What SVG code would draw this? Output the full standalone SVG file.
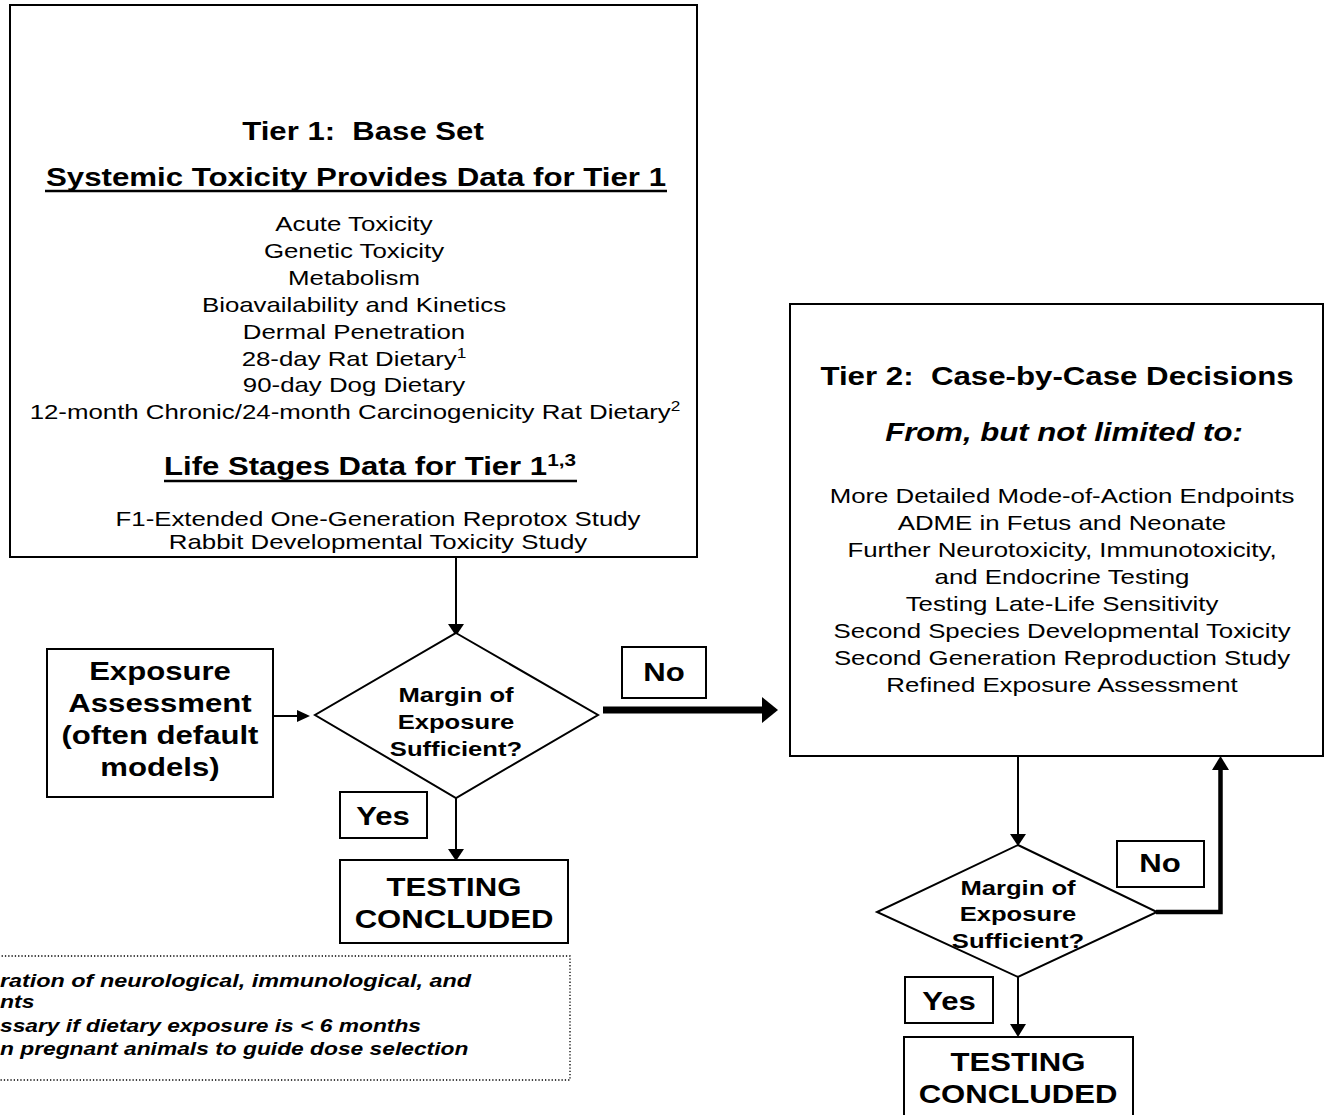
<svg xmlns="http://www.w3.org/2000/svg" width="1325" height="1115" viewBox="0 0 1325 1115">
<style>
  text { font-family: "Liberation Sans", Arial, sans-serif; fill: #000; }
  .reg { font-size: 21px; }
  .big { font-size: 25.5px; font-weight: bold; }
  .bi { font-size: 25.5px; font-weight: bold; font-style: italic; }
  .dia { font-size: 21px; font-weight: bold; }
  .note { font-size: 19px; font-weight: bold; font-style: italic; }
  .box { fill: #fff; stroke: #000; stroke-width: 2; }
  .line { fill: none; stroke: #000; stroke-width: 2; }
  .thick { fill: none; stroke: #000; }
  .head { fill: #000; stroke: none; }
  .ul { stroke: #000; stroke-width: 2.5; }
  .dot { fill: #fff; stroke: #000; stroke-width: 1.3; stroke-dasharray: 1.3 2; }
</style>

<g id="connectors">
  <line class="line" x1="456" y1="557" x2="456" y2="626"/>
  <polygon class="head" points="448,624 464,624 456,636"/>
  <line class="line" x1="273" y1="716" x2="299" y2="716"/>
  <polygon class="head" points="297,710 310,716 297,722"/>
  <line class="thick" stroke-width="7" x1="603" y1="710" x2="765" y2="710"/>
  <polygon class="head" points="762,697 778,710 762,723"/>
  <line class="line" x1="456" y1="798" x2="456" y2="851"/>
  <polygon class="head" points="448,849 464,849 456,861"/>
  <line class="line" x1="1018" y1="756" x2="1018" y2="836"/>
  <polygon class="head" points="1010,834 1026,834 1018,846"/>
  <polyline class="thick" stroke-width="4.5" points="1156,912 1220.5,912 1220.5,768"/>
  <polygon class="head" points="1212,770 1229,770 1220.5,756"/>
  <line class="line" x1="1018" y1="977" x2="1018" y2="1026"/>
  <polygon class="head" points="1010,1024 1026,1024 1018,1037"/>
</g>

<g id="tier1">
  <rect class="box" x="10" y="5" width="687" height="552"/>
  <text class="big" text-anchor="middle" transform="translate(363,140) scale(1.22,1)">Tier 1:&#160; Base Set</text>
  <text class="big" text-anchor="middle" transform="translate(356,186) scale(1.225,1)">Systemic Toxicity Provides Data for Tier 1</text>
  <line class="ul" x1="45" y1="191" x2="667" y2="191"/>
  <text class="reg" text-anchor="middle" transform="translate(354,231) scale(1.23,1)">Acute Toxicity</text>
  <text class="reg" text-anchor="middle" transform="translate(354,258) scale(1.23,1)">Genetic Toxicity</text>
  <text class="reg" text-anchor="middle" transform="translate(354,285) scale(1.23,1)">Metabolism</text>
  <text class="reg" text-anchor="middle" transform="translate(354,312) scale(1.23,1)">Bioavailability and Kinetics</text>
  <text class="reg" text-anchor="middle" transform="translate(354,339) scale(1.23,1)">Dermal Penetration</text>
  <text class="reg" text-anchor="middle" transform="translate(354,366) scale(1.23,1)">28-day Rat Dietary<tspan font-size="14" dy="-8">1</tspan></text>
  <text class="reg" text-anchor="middle" transform="translate(354,392) scale(1.23,1)">90-day Dog Dietary</text>
  <text class="reg" text-anchor="middle" transform="translate(355,419) scale(1.23,1)">12-month Chronic/24-month Carcinogenicity Rat Dietary<tspan font-size="14" dy="-8">2</tspan></text>
  <text class="big" text-anchor="middle" transform="translate(370,475) scale(1.22,1)">Life Stages Data for Tier 1<tspan font-size="17" dy="-9">1,3</tspan></text>
  <line class="ul" x1="164" y1="481" x2="577" y2="481"/>
  <text class="reg" text-anchor="middle" transform="translate(378,526) scale(1.23,1)">F1-Extended One-Generation Reprotox Study</text>
  <text class="reg" text-anchor="middle" transform="translate(378,549) scale(1.23,1)">Rabbit Developmental Toxicity Study</text>
</g>

<g id="exposure">
  <rect class="box" x="47" y="649" width="226" height="148"/>
  <text class="big" text-anchor="middle" transform="translate(160,680) scale(1.22,1)">Exposure</text>
  <text class="big" text-anchor="middle" transform="translate(160,712) scale(1.22,1)">Assessment</text>
  <text class="big" text-anchor="middle" transform="translate(160,744) scale(1.22,1)">(often default</text>
  <text class="big" text-anchor="middle" transform="translate(160,776) scale(1.22,1)">models)</text>
</g>

<g id="decision1">
  <polygon class="box" points="456,633 598,715 456,798 315,715"/>
  <text class="dia" text-anchor="middle" transform="translate(456,702) scale(1.22,1)">Margin of</text>
  <text class="dia" text-anchor="middle" transform="translate(456,729) scale(1.22,1)">Exposure</text>
  <text class="dia" text-anchor="middle" transform="translate(456,756) scale(1.22,1)">Sufficient?</text>
</g>

<g id="no1">
  <rect class="box" x="622" y="647" width="84" height="51"/>
  <text class="big" text-anchor="middle" transform="translate(664,681) scale(1.22,1)">No</text>
</g>

<g id="yes1">
  <rect class="box" x="340" y="792" width="87" height="46"/>
  <text class="big" text-anchor="middle" transform="translate(383,825) scale(1.22,1)">Yes</text>
</g>

<g id="concluded1">
  <rect class="box" x="340" y="860" width="228" height="83"/>
  <text class="big" text-anchor="middle" transform="translate(454,896) scale(1.22,1)">TESTING</text>
  <text class="big" text-anchor="middle" transform="translate(454,928) scale(1.22,1)">CONCLUDED</text>
</g>

<g id="footnotes">
  <rect class="dot" x="-5" y="956" width="575" height="124"/>
  <text class="note" transform="translate(0,987) scale(1.23,1)">ration of neurological, immunological, and</text>
  <text class="note" transform="translate(0,1008) scale(1.21,1)">nts</text>
  <text class="note" transform="translate(0,1032) scale(1.2,1)">ssary if dietary exposure is &lt; 6 months</text>
  <text class="note" transform="translate(0,1055) scale(1.2,1)">n pregnant animals to guide dose selection</text>
</g>

<g id="tier2">
  <rect class="box" x="790" y="304" width="533" height="452" stroke-width="2.5"/>
  <text class="big" text-anchor="middle" transform="translate(1057,385) scale(1.225,1)">Tier 2:&#160; Case-by-Case Decisions</text>
  <text class="bi" text-anchor="middle" transform="translate(1064,441) scale(1.22,1)">From, but not limited to:</text>
  <text class="reg" text-anchor="middle" transform="translate(1062,503) scale(1.23,1)">More Detailed Mode-of-Action Endpoints</text>
  <text class="reg" text-anchor="middle" transform="translate(1062,530) scale(1.23,1)">ADME in Fetus and Neonate</text>
  <text class="reg" text-anchor="middle" transform="translate(1062,557) scale(1.23,1)">Further Neurotoxicity, Immunotoxicity,</text>
  <text class="reg" text-anchor="middle" transform="translate(1062,584) scale(1.23,1)">and Endocrine Testing</text>
  <text class="reg" text-anchor="middle" transform="translate(1062,611) scale(1.23,1)">Testing Late-Life Sensitivity</text>
  <text class="reg" text-anchor="middle" transform="translate(1062,638) scale(1.23,1)">Second Species Developmental Toxicity</text>
  <text class="reg" text-anchor="middle" transform="translate(1062,665) scale(1.23,1)">Second Generation Reproduction Study</text>
  <text class="reg" text-anchor="middle" transform="translate(1062,692) scale(1.23,1)">Refined Exposure Assessment</text>
</g>

<g id="decision2">
  <polygon class="box" points="1018,845 1157,912 1018,977 877,912"/>
  <text class="dia" text-anchor="middle" transform="translate(1018,895) scale(1.22,1)">Margin of</text>
  <text class="dia" text-anchor="middle" transform="translate(1018,921) scale(1.22,1)">Exposure</text>
  <text class="dia" text-anchor="middle" transform="translate(1018,948) scale(1.22,1)">Sufficient?</text>
</g>

<g id="no2">
  <rect class="box" x="1117" y="841" width="87" height="46"/>
  <text class="big" text-anchor="middle" transform="translate(1160,872) scale(1.22,1)">No</text>
</g>

<g id="yes2">
  <rect class="box" x="905" y="977" width="88" height="46"/>
  <text class="big" text-anchor="middle" transform="translate(949,1010) scale(1.22,1)">Yes</text>
</g>

<g id="concluded2">
  <rect class="box" x="904" y="1037" width="229" height="80"/>
  <text class="big" text-anchor="middle" transform="translate(1018,1071) scale(1.22,1)">TESTING</text>
  <text class="big" text-anchor="middle" transform="translate(1018,1103) scale(1.22,1)">CONCLUDED</text>
</g>
</svg>
